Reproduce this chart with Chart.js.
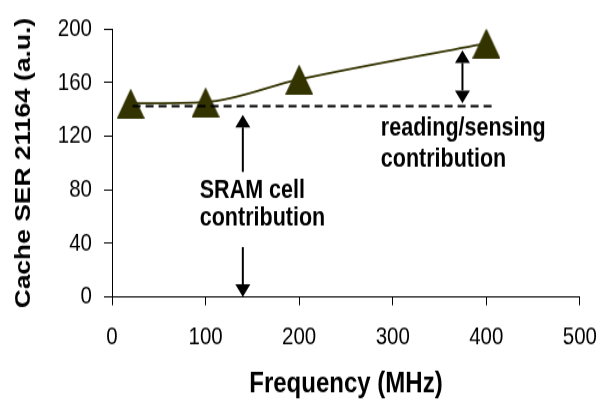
<!DOCTYPE html>
<html>
<head>
<meta charset="utf-8">
<script src="https://cdn.jsdelivr.net/npm/chart.js@4.4.1/dist/chart.umd.min.js"></script>
<style>
  html, body { margin: 0; padding: 0; background: #fff; }
</style>
</head>
<body>
<!-- the source picture is stretched vertically, so the canvas is drawn short and scaled up -->
<canvas id="chart" width="611" height="336" style="display:block;width:611px;height:403px"></canvas>
<script>
const freqs = [20, 100, 200, 400];
const serValues = [144.5, 145.5, 162.5, 189.5];
const cellLevelX = [22, 409];
const cellLevelY = [142.5, 142.5];

const notes = [
  { text: "reading/sensing", x: 287.3, y: 120.9 },
  { text: "contribution", x: 287.3, y: 97.5 },
  { text: "SRAM cell", x: 93.8, y: 74.3 },
  { text: "contribution", x: 93.8, y: 53.3 },
];
const arrows = [
  { x: 139.8, from: 93.4, to: 136, both: false },
  { x: 139.8, from: 37.3, to: 0, both: false },
  { x: 374.5, from: 144.8, to: 184.2, both: true },
];

const FONT = "'Liberation Sans', Arial, sans-serif";
const olive = "#333300";

// triangle marker centred on its box, like the spreadsheet markers
const marker = document.createElement("canvas");
marker.width = 28;
marker.height = 25;
const mctx = marker.getContext("2d");
mctx.fillStyle = olive;
mctx.beginPath();
mctx.moveTo(0, 25);
mctx.lineTo(14, 0);
mctx.lineTo(28, 25);
mctx.closePath();
mctx.fill();

const notesPlugin = {
  id: "notes",
  afterDatasetsDraw(chart) {
    const { ctx } = chart;
    const xs = chart.scales.x;
    const ys = chart.scales.y;
    ctx.save();
    ctx.fillStyle = "#000";
    ctx.font = "bold 21.5px " + FONT;
    ctx.textAlign = "left";
    ctx.textBaseline = "alphabetic";
    notes.forEach((n) => {
      ctx.fillText(n.text, xs.getPixelForValue(n.x), ys.getPixelForValue(n.y));
    });

    const headW = 7.5, headL = 10.5;
    const head = (x, tip, dir) => {
      ctx.beginPath();
      ctx.moveTo(x, tip);
      ctx.lineTo(x - headW, tip - dir * headL);
      ctx.lineTo(x + headW, tip - dir * headL);
      ctx.closePath();
      ctx.fill();
    };
    ctx.strokeStyle = "#000";
    ctx.lineWidth = 2;
    arrows.forEach((a) => {
      const x = xs.getPixelForValue(a.x);
      const y1 = ys.getPixelForValue(a.from);
      const y2 = ys.getPixelForValue(a.to);
      const dir = Math.sign(y2 - y1);
      ctx.beginPath();
      ctx.moveTo(x, a.both ? y1 + dir * headL : y1);
      ctx.lineTo(x, y2 - dir * headL);
      ctx.stroke();
      head(x, y2, dir);
      if (a.both) head(x, y1, -dir);
    });
    ctx.restore();
  },
};

new Chart(document.getElementById("chart"), {
  type: "line",
  data: {
    datasets: [
      {
        label: "cell",
        data: cellLevelX.map((x, i) => ({ x, y: cellLevelY[i] })),
        borderColor: "#000",
        borderWidth: 2,
        borderDash: [8, 5],
        pointRadius: 0,
      },
      {
        label: "SER",
        data: freqs.map((x, i) => ({ x, y: serValues[i] })),
        borderColor: olive,
        borderWidth: 1.8,
        cubicInterpolationMode: "monotone",
        pointStyle: marker,
        pointRadius: 14,
      },
    ],
  },
  options: {
    responsive: false,
    animation: false,
    devicePixelRatio: 1,
    layout: { padding: { top: 15, right: 21, left: 0, bottom: 0 } },
    plugins: { legend: { display: false }, tooltip: { enabled: false } },
    scales: {
      x: {
        type: "linear",
        min: 0,
        max: 500,
        ticks: { stepSize: 100, color: "#000", padding: 14, font: { family: FONT, size: 20.5 } },
        grid: { drawOnChartArea: false, tickLength: 7, tickColor: "#000" },
        border: { color: "#000", width: 1 },
        title: {
          display: true,
          text: "Frequency (MHz)",
          color: "#000",
          font: { family: FONT, size: 24, weight: "bold" },
          padding: { top: 0, bottom: 1 },
        },
        afterFit: (s) => { s.height = 88.4; },
      },
      y: {
        type: "linear",
        min: 0,
        max: 200,
        ticks: { stepSize: 40, color: "#000", padding: 12, font: { family: FONT, size: 20.5 } },
        grid: { drawOnChartArea: false, tickLength: 8, tickColor: "#000" },
        border: { color: "#000", width: 1 },
        title: {
          display: true,
          text: "Cache SER 21164 (a.u.)",
          color: "#000",
          font: { family: FONT, size: 22, weight: "bold" },
          padding: { top: 11, bottom: 0 },
        },
        afterFit: (s) => { s.width = 112; },
      },
    },
  },
  plugins: [notesPlugin],
});
</script>
</body>
</html>
